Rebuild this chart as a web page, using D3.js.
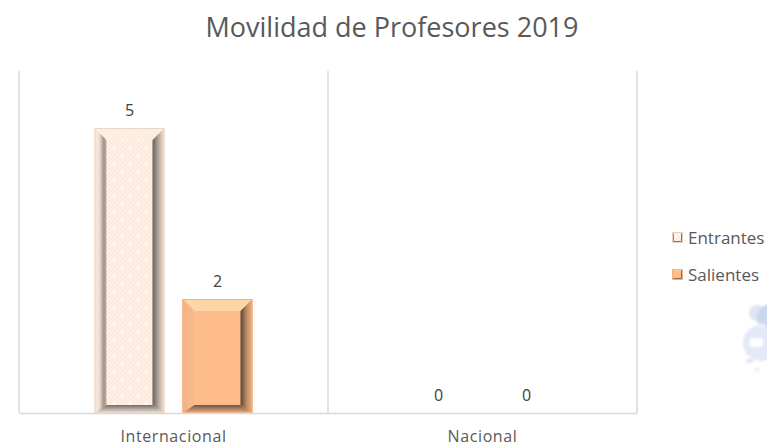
<!DOCTYPE html>
<html>
<head>
<meta charset="utf-8">
<script src="https://cdn.jsdelivr.net/npm/d3@7"></script>
<style>
  html, body { margin: 0; padding: 0; background: #fff; }
  svg { display: block; }
  text { font-family: "Open Sans", sans-serif; fill: #595959; }
</style>
</head>
<body>
<div id="chart"></div>
<script>
// data
var categories = ["Internacional", "Nacional"];
var seriesNames = ["Entrantes", "Salientes"];
var entrantes = [5, 0];
var salientes = [2, 0];

var width = 767, height = 448;
var margin = {top: 71, right: 130, bottom: 35, left: 19};

var svg = d3.select("#chart").append("svg")
    .attr("width", width)
    .attr("height", height);

var defs = svg.append("defs");

// fine checker with white dots, the fill of the Entrantes bars
var dots = defs.append("pattern")
    .attr("id", "dots")
    .attr("width", 16).attr("height", 16)
    .attr("patternUnits", "userSpaceOnUse");
dots.append("rect").attr("width", 16).attr("height", 16).attr("fill", "#fbe6d8");
d3.range(0, 16, 2).forEach(function(a) {
    d3.range(0, 16, 2).forEach(function(b) {
        if ((a + b) % 4 == 0) {
            dots.append("rect").attr("x", a).attr("y", b).attr("width", 2).attr("height", 2).attr("fill", "#fff3ea");
        }
    });
});
dots.append("circle").attr("cx", 4).attr("cy", 4).attr("r", 1.3).attr("fill", "#fff");
dots.append("circle").attr("cx", 12).attr("cy", 12).attr("r", 1.3).attr("fill", "#fff");

function gradient(id, x2, y2, stops) {
    var g = defs.append("linearGradient").attr("id", id)
        .attr("x1", 0).attr("y1", 0).attr("x2", x2).attr("y2", y2);
    stops.forEach(function(s) {
        g.append("stop").attr("offset", s[0]).attr("stop-color", s[1]);
    });
}
// bevel shading, light on the outside edge and dark against the face
gradient("e-left", 1, 0, [[0, "#fbe9dd"], [0.4, "#efdccf"], [0.78, "#8f8178"], [1, "#b5a59a"]]);
gradient("e-right", 1, 0, [[0, "#4f4945"], [0.5, "#a89c93"], [1, "#fbe5d6"]]);
gradient("e-bottom", 0, 1, [[0, "#5d5753"], [0.6, "#b9aba0"], [1, "#fbe5d6"]]);
gradient("s-left", 1, 0, [[0, "#f4b183"], [1, "#f7bb8d"]]);
gradient("s-right", 1, 0, [[0, "#5a4535"], [0.5, "#b98a66"], [1, "#f4b183"]]);
gradient("s-bottom", 0, 1, [[0, "#6e5543"], [1, "#f0ad7e"]]);

var bevelFill = [
    {face: "url(#dots)", top: "#fdeee0", left: "url(#e-left)", right: "url(#e-right)", bottom: "url(#e-bottom)", edge: "#e3d3c6"},
    {face: "#ffbc8b", top: "#fdd5a6", left: "url(#s-left)", right: "url(#s-right)", bottom: "url(#s-bottom)", edge: "#f4b183"}
];

var x0 = d3.scaleBand()
    .domain(categories)
    .range([margin.left, width - margin.right]);

var x1 = d3.scaleBand()
    .domain(seriesNames)
    .range([0, x0.bandwidth()])
    .paddingInner(0.2045)
    .paddingOuter(0.858);

var y = d3.scaleLinear()
    .domain([0, 6])
    .range([height - margin.bottom, margin.top]);

// title
svg.append("text")
    .attr("x", 392).attr("y", 37)
    .attr("text-anchor", "middle")
    .style("font-size", "27px")
    .text("Movilidad de Profesores 2019");

// watermark behind the legend
var mark = svg.append("g").attr("opacity", 0.45).style("filter", "blur(1.2px)");
mark.append("circle").attr("cx", 757).attr("cy", 313).attr("r", 8).attr("fill", "#b9c6e6");
mark.append("circle").attr("cx", 771).attr("cy", 318).attr("r", 14).attr("fill", "#8fa5d6");
mark.append("circle").attr("cx", 761).attr("cy", 343).attr("r", 18).attr("fill", "#c3cfec");
mark.append("rect").attr("x", 750).attr("y", 338).attr("width", 13).attr("height", 9).attr("fill", "#fff");
mark.append("circle").attr("cx", 762).attr("cy", 326).attr("r", 3).attr("fill", "#d5deef");
mark.append("rect").attr("x", 746).attr("y", 359).attr("width", 7).attr("height", 4).attr("fill", "#b9c6e6");
mark.append("circle").attr("cx", 757).attr("cy", 370).attr("r", 3).attr("fill", "#dfe6f3");

// separators between the categories
svg.append("g")
    .selectAll("line")
    .data(categories.concat(["end"]))
    .enter()
    .append("line")
        .attr("x1", function(d, i) { return margin.left + i * x0.bandwidth(); })
        .attr("x2", function(d, i) { return margin.left + i * x0.bandwidth(); })
        .attr("y1", y(6))
        .attr("y2", y(0))
        .attr("stroke", "#d9d9d9")
        .attr("stroke-width", 1.5);

// one row per bar
var rows = [];
categories.forEach(function(c, i) {
    rows.push({cat: c, name: seriesNames[0], s: 0, value: entrantes[i]});
    rows.push({cat: c, name: seriesNames[1], s: 1, value: salientes[i]});
});

var bars = svg.append("g")
    .selectAll("g")
    .data(rows.filter(function(d) { return d.value > 0; }))
    .enter()
    .append("g")
        .attr("transform", function(d) {
            return "translate(" + (x0(d.cat) + x1(d.name)) + "," + y(d.value) + ")";
        });

function drawBevel(sel, w, hOf, fillOf, b, bb) {
    sel.append("rect")
        .attr("width", w).attr("height", hOf)
        .attr("fill", function(d) { return fillOf(d).face; });
    sel.append("polygon")
        .attr("points", function() { return [[0, 0], [w, 0], [w - b, b], [b, b]].join(" "); })
        .attr("fill", function(d) { return fillOf(d).top; });
    sel.append("polygon")
        .attr("points", function(d) { var h = hOf(d); return [[0, 0], [b, b], [b, h - bb], [0, h]].join(" "); })
        .attr("fill", function(d) { return fillOf(d).left; });
    sel.append("polygon")
        .attr("points", function(d) { var h = hOf(d); return [[w, 0], [w, h], [w - b, h - bb], [w - b, b]].join(" "); })
        .attr("fill", function(d) { return fillOf(d).right; });
    sel.append("polygon")
        .attr("points", function(d) { var h = hOf(d); return [[0, h], [b, h - bb], [w - b, h - bb], [w, h]].join(" "); })
        .attr("fill", function(d) { return fillOf(d).bottom; });
    sel.append("rect")
        .attr("x", 0.5).attr("y", 0.5)
        .attr("width", w - 1).attr("height", function(d) { return hOf(d) - 1; })
        .attr("fill", "none")
        .attr("stroke", function(d) { return fillOf(d).edge; })
        .attr("stroke-width", 1);
}

drawBevel(bars, x1.bandwidth(),
    function(d) { return y(0) - y(d.value); },
    function(d) { return bevelFill[d.s]; },
    12, 8);

// the dots also run across the bevels of the Entrantes bar
bars.filter(function(d) { return d.s == 0; })
    .append("rect")
        .attr("width", x1.bandwidth())
        .attr("height", function(d) { return y(0) - y(d.value); })
        .attr("fill", "url(#dots)")
        .attr("opacity", 0.15);

// value labels, zeros included
svg.append("g")
    .selectAll("text")
    .data(rows)
    .enter()
    .append("text")
        .attr("x", function(d) { return x0(d.cat) + x1(d.name) + x1.bandwidth() / 2; })
        .attr("y", function(d) { return y(d.value) - 12; })
        .attr("text-anchor", "middle")
        .style("font-size", "16px")
        .style("fill", "#404040")
        .text(function(d) { return d.value; });

// x axis
var xAxis = svg.append("g")
    .attr("transform", "translate(0," + y(0) + ")")
    .call(d3.axisBottom(x0).tickSize(0).tickPadding(18));
xAxis.select(".domain").attr("stroke", "#d9d9d9").attr("stroke-width", 1.5);
xAxis.selectAll("text")
    .style("font-size", "16px")
    .style("letter-spacing", "0.6px")
    .style("font-family", "'Open Sans', sans-serif");

// legend
var legend = svg.append("g")
    .selectAll("g")
    .data(seriesNames)
    .enter()
    .append("g")
        .attr("transform", function(d, i) { return "translate(672," + (232 + i * 37) + ")"; });

drawBevel(legend, 11, function() { return 11; },
    function(d) { return bevelFill[seriesNames.indexOf(d)]; }, 2, 2);

legend.append("text")
    .attr("x", 16).attr("y", 12)
    .style("font-size", "17px")
    .text(function(d) { return d; });
</script>
</body>
</html>
